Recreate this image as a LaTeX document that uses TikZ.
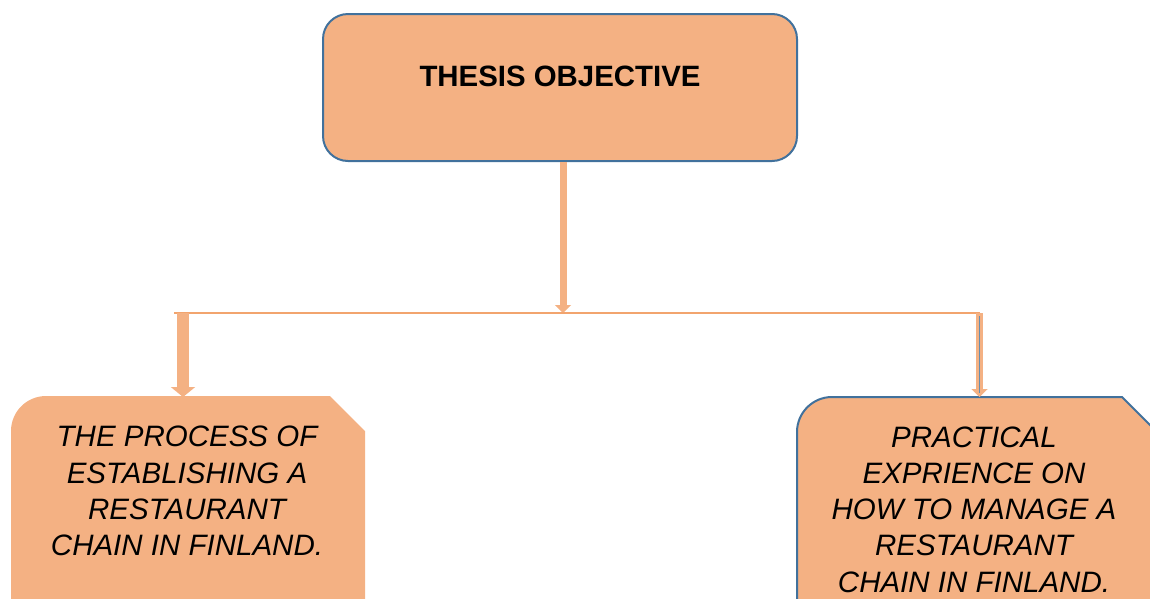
\documentclass[tikz,border=0pt]{standalone}
\usepackage{fontspec}
\setmainfont{Liberation Sans}
\usetikzlibrary{arrows.meta,positioning,calc}
\definecolor{Peach}{HTML}{F4B183}
\definecolor{PeachLine}{HTML}{F2A46E}
\definecolor{Frame}{HTML}{41719C}

\begin{document}
\begin{tikzpicture}[x=1pt,y=-1pt,>=stealth,
  objbox/.style={draw=Frame,line width=2pt,fill=Peach,rounded corners=25pt,minimum width=474pt,minimum height=147pt,inner sep=0pt},
  titletext/.style={font=\bfseries\fontsize{29.4}{34}\selectfont,inner sep=0pt},
  bodytext/.style={font=\itshape\fontsize{29.5}{36.2}\selectfont,align=center,inner sep=0pt},
  stem/.style={Peach,line width=7pt,-{Triangle[width=16pt,length=8pt]}},
  ldrop/.style={Peach,line width=12pt,-{Triangle[width=24pt,length=10pt]}},
  rdrop/.style={Peach,line width=7pt,-{Triangle[width=16pt,length=8pt]}},
  bar/.style={PeachLine,line width=2pt},
  goalbox/.style={fill=Peach}
]
\useasboundingbox (0,0) rectangle (1150,598);
% top box
\node[objbox] (objective) at (560,87.5) {};
\node[titletext] (objtitle) at (560,76) {THESIS OBJECTIVE};
% branch points
\coordinate (hub) at (563,313);
\coordinate (lend) at (174,313);
\coordinate (rend) at (979.5,313);
\coordinate (ltop) at (183,397);
\coordinate (rtop) at (979.5,397);
% lower boxes
\fill[goalbox] (11,620) -- (11,431) arc[start angle=180,end angle=270,radius=35] -- (330,396) -- (365,431) -- (365,620) -- cycle;
\draw[goalbox,draw=Frame,line width=2pt] (797,620) -- (797,432) arc[start angle=180,end angle=270,radius=35] -- (1122,397) -- (1157,432) -- (1157,620) -- cycle;
\node[bodytext] (process) at (187,491) {THE PROCESS OF\\ESTABLISHING A\\RESTAURANT\\CHAIN IN FINLAND.};
\node[bodytext] (practice) at (974,509.5) {PRACTICAL\\EXPRIENCE ON\\HOW TO MANAGE A\\RESTAURANT\\CHAIN IN FINLAND.};
% connectors
\draw[stem] (objective.south -| hub) -- (hub);
\draw[bar] (lend) -- (rend);
\draw[ldrop] (lend -| ltop) -- (ltop);
\draw[rdrop] (rend) -- (rtop);
\draw[Frame!80,line width=1.5pt,shorten <=3pt,shorten >=4pt] (rend) -- (rtop);
\end{tikzpicture}
\end{document}
